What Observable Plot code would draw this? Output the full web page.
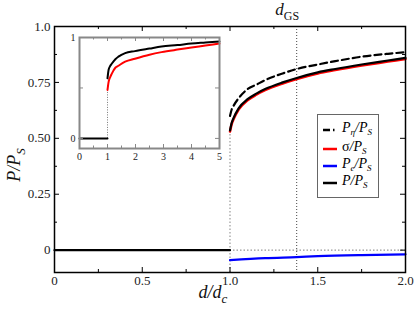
<!DOCTYPE html>
<html><head><meta charset="utf-8">
<script src="https://cdn.jsdelivr.net/npm/d3@7"></script>
<script src="https://cdn.jsdelivr.net/npm/@observablehq/plot@0.6"></script>
<style>
body{margin:0;background:#fff;}
#wrap{position:relative;width:415px;height:312px;font-family:'Liberation Serif','DejaVu Serif',serif;}
#inset{position:absolute;left:64px;top:32px;}
#legend{position:absolute;left:317px;top:114px;width:62px;height:84px;border:1px solid #666;background:#fff;box-sizing:border-box;}
.le{position:absolute;left:0;height:14px;font-size:14px;line-height:14px;white-space:nowrap;}
.le svg{position:absolute;left:5px;top:6px;}
.le > span{position:absolute;left:24px;top:-1px;font-style:italic;}
sub{font-size:9px;line-height:0;vertical-align:-3px;}
svg text{font-family:'Liberation Serif','DejaVu Serif',serif !important;}
</style></head>
<body>
<div id="wrap"><div id="main"></div><div id="inset"></div>
<div id="legend"></div></div>
<script>
// main panel data
const dMain = [1, 1.01, 1.02, 1.05, 1.1, 1.15, 1.2, 1.3, 1.38, 1.5, 1.6, 1.75, 1.9, 2.0];
const pTotal = [0.535, 0.57, 0.59, 0.635, 0.675, 0.70, 0.72, 0.75, 0.77, 0.795, 0.81, 0.83, 0.848, 0.86];
const pSigma = [0.53, 0.565, 0.585, 0.63, 0.67, 0.695, 0.715, 0.745, 0.765, 0.79, 0.805, 0.825, 0.843, 0.855];
const pEta = [0.60, 0.63, 0.645, 0.68, 0.72, 0.74, 0.76, 0.79, 0.81, 0.83, 0.845, 0.865, 0.878, 0.885];
const dE = [1, 1.2, 1.38, 1.5, 1.75, 2.0];
const pE = [-0.045, -0.036, -0.031, -0.027, -0.022, -0.019];
const dBelow = [0, 1];
const pBelow = [0, 0];
const dGS = 1.38;
const xMajor = [0, 0.5, 1, 1.5, 2];
const xLabels = ["0", "0.5", "1.0", "1.5", "2.0"];
const xMinor = [0.25, 0.75, 1.25, 1.75];
const yMajor = [0, 0.25, 0.5, 0.75, 1.0];
const yLabels = ["0", "0.25", "0.50", "0.75", "1.0"];
const yMinor = [0.125, 0.375, 0.625, 0.875];
// inset data
const dIn = [1, 1.04, 1.1, 1.15, 1.28, 1.39, 1.63, 1.98, 2.5, 2.93, 3.5, 4.0, 4.5, 5.0];
const inBlack = [0.595, 0.68, 0.72, 0.74, 0.785, 0.81, 0.845, 0.865, 0.89, 0.91, 0.925, 0.94, 0.95, 0.96];
const inRed = [0.48, 0.56, 0.61, 0.64, 0.70, 0.72, 0.76, 0.79, 0.83, 0.855, 0.88, 0.90, 0.92, 0.94];
const inXMajor = [0, 1, 2, 3, 4, 5];
const inXLabels = ["0", "1", "2", "3", "4", "5"];
const inXMinor = [0.5, 1.5, 2.5, 3.5, 4.5];
const inYMajor = [0, 1];
const inYLabels = ["0", "1"];
const inYMinor = [0.5];

const FONT = "'Liberation Serif', 'DejaVu Serif', serif";
const W = 415, H = 312, mL = 54, mR = 10, mT = 26, mB = 40;
const fw = W - mL - mR, fh = H - mT - mB;
const row = (xs, ys) => xs.map((x, i) => ({x, y: ys[i]}));

const main = Plot.plot({
  width: W, height: H, marginLeft: mL, marginRight: mR, marginTop: mT, marginBottom: mB,
  style: {fontFamily: FONT, fontSize: "13px", background: "transparent"},
  x: {domain: [0, 2], label: null}, y: {domain: [-0.1, 1], label: null},
  marks: [
    Plot.ruleX([1], {y1: -0.1, y2: pSigma[0], stroke: "#999", strokeDasharray: "1.5,2", strokeWidth: 1.2}),
    Plot.ruleY([0], {x1: 1, x2: 2, stroke: "#999", strokeDasharray: "1.5,2", strokeWidth: 1.2}),
    Plot.ruleX([dGS], {stroke: "#444", strokeDasharray: "1,2", strokeWidth: 1}),
    Plot.line(row(dBelow, pBelow), {x: "x", y: "y", stroke: "black", strokeWidth: 2.2}),
    Plot.line(row(dMain, pEta), {x: "x", y: "y", stroke: "black", strokeWidth: 2.2, strokeDasharray: "7,4", curve: "monotone-x"}),
    Plot.line(row(dMain, pSigma), {x: "x", y: "y", stroke: "#ff0000", strokeWidth: 2.5, curve: "monotone-x"}),
    Plot.line(row(dMain, pTotal), {x: "x", y: "y", stroke: "black", strokeWidth: 2.2, curve: "monotone-x"}),
    Plot.line(row(dE, pE), {x: "x", y: "y", stroke: "#0000ff", strokeWidth: 2.2, curve: "monotone-x"}),
    Plot.ruleY(yMajor, {insetRight: fw - 5, stroke: "black"}),
    Plot.ruleY(yMajor, {insetLeft: fw - 5, stroke: "black"}),
    Plot.ruleY(yMinor, {insetRight: fw - 3, stroke: "black"}),
    Plot.ruleY(yMinor, {insetLeft: fw - 3, stroke: "black"}),
    Plot.ruleX(xMajor, {insetTop: fh - 5, stroke: "black"}),
    Plot.ruleX(xMajor, {insetBottom: fh - 5, stroke: "black"}),
    Plot.ruleX(xMinor, {insetTop: fh - 3, stroke: "black"}),
    Plot.ruleX(xMinor, {insetBottom: fh - 3, stroke: "black"}),
    Plot.axisX({ticks: xMajor, tickSize: 0, tickPadding: 3, tickFormat: (d, i) => xLabels[i], fontSize: 13, fontFamily: FONT, fill: "#222", label: null}),
    Plot.axisY({ticks: yMajor, tickSize: 0, tickPadding: 4, tickFormat: (d, i) => yLabels[i], fontSize: 13, fontFamily: FONT, fill: "#222", label: null}),
    Plot.frame({stroke: "black", strokeWidth: 1.5})
  ]
});
document.getElementById("main").appendChild(main);

const sx = main.scale("x");
const svg = d3.select(main);
// d_GS label
const tg = svg.append("text").attr("x", sx.apply(dGS) - 9).attr("y", 15)
  .attr("font-size", 17).attr("fill", "#111");
tg.append("tspan").attr("font-style", "italic").text("d");
tg.append("tspan").attr("font-size", 12).attr("dy", 5).text("GS");
// x label
const tx = svg.append("text").attr("x", 213).attr("y", 298)
  .attr("font-size", 18).attr("fill", "#111").attr("font-style", "italic");
tx.append("tspan").text("d/d");
tx.append("tspan").attr("font-size", 13).attr("dy", 5).text("c");
// y label
const ty = svg.append("text").attr("transform", "translate(20,165) rotate(-90)")
  .attr("font-size", 18).attr("fill", "#111").attr("font-style", "italic");
ty.append("tspan").text("P/P");
ty.append("tspan").attr("font-size", 13).attr("dy", 5).text("S");

// inset
const iW = 160, iH = 135, iL = 15, iR = 5, iT = 5, iB = 19;
const ifw = iW - iL - iR, ifh = iH - iT - iB;
const inset = Plot.plot({
  width: iW, height: iH, marginLeft: iL, marginRight: iR, marginTop: iT, marginBottom: iB,
  style: {fontFamily: FONT, fontSize: "10px", background: "transparent", overflow: "visible"},
  x: {domain: [0, 5], label: null}, y: {domain: [-0.1, 1], label: null},
  marks: [
    Plot.ruleX([1], {y1: 0, y2: inRed[0], stroke: "#777", strokeDasharray: "1,1.5", strokeWidth: 1}),
    Plot.line(row([0, 1], [0, 0]), {x: "x", y: "y", stroke: "black", strokeWidth: 2}),
    Plot.line(row(dIn, inRed), {x: "x", y: "y", stroke: "#ff0000", strokeWidth: 2, curve: "monotone-x"}),
    Plot.line(row(dIn, inBlack), {x: "x", y: "y", stroke: "black", strokeWidth: 2, curve: "monotone-x"}),
    Plot.ruleY(inYMajor, {insetRight: ifw - 4, stroke: "#888"}),
    Plot.ruleY(inYMajor, {insetLeft: ifw - 4, stroke: "#888"}),
    Plot.ruleY(inYMinor, {insetRight: ifw - 4, stroke: "#888"}),
    Plot.ruleY(inYMinor, {insetLeft: ifw - 4, stroke: "#888"}),
    Plot.ruleX(inXMajor, {insetTop: ifh - 4, stroke: "#888"}),
    Plot.ruleX(inXMajor, {insetBottom: ifh - 4, stroke: "#888"}),
    Plot.ruleX(inXMinor, {insetTop: ifh - 2.5, stroke: "#888"}),
    Plot.ruleX(inXMinor, {insetBottom: ifh - 2.5, stroke: "#888"}),
    Plot.axisX({ticks: inXMajor, tickSize: 0, tickPadding: 4, tickFormat: (d, i) => inXLabels[i], fontSize: 10, fontFamily: FONT, fill: "#222", label: null}),
    Plot.axisY({ticks: inYMajor, tickSize: 0, tickPadding: 4, tickFormat: (d, i) => inYLabels[i], fontSize: 10, fontFamily: FONT, fill: "#222", label: null}),
    Plot.frame({stroke: "#888", strokeWidth: 2})
  ]
});
document.getElementById("inset").appendChild(inset);

// legend
const legendItems = [
  {html: "P<sub>η</sub>/P<sub>S</sub>", stroke: "black", dash: "7,3,1.5,3"},
  {html: "<i style='font-style:normal'>σ</i>/P<sub>S</sub>", stroke: "#ff0000", dash: null},
  {html: "P<sub>e</sub>/P<sub>S</sub>", stroke: "#0000ff", dash: null},
  {html: "P/P<sub>S</sub>", stroke: "black", dash: null}
];
const legendTops = [7, 26, 43, 60];
const lg = document.getElementById("legend");
legendItems.forEach((it, i) => {
  const d = document.createElement("div");
  d.className = "le";
  d.style.top = legendTops[i] + "px";
  d.innerHTML = `<svg width="16" height="4"><line x1="0" y1="2" x2="14" y2="2" stroke="${it.stroke}" stroke-width="2.5" ${it.dash ? `stroke-dasharray="${it.dash}"` : ""}/></svg><span>${it.html}</span>`;
  lg.appendChild(d);
});
</script>
</body></html>
